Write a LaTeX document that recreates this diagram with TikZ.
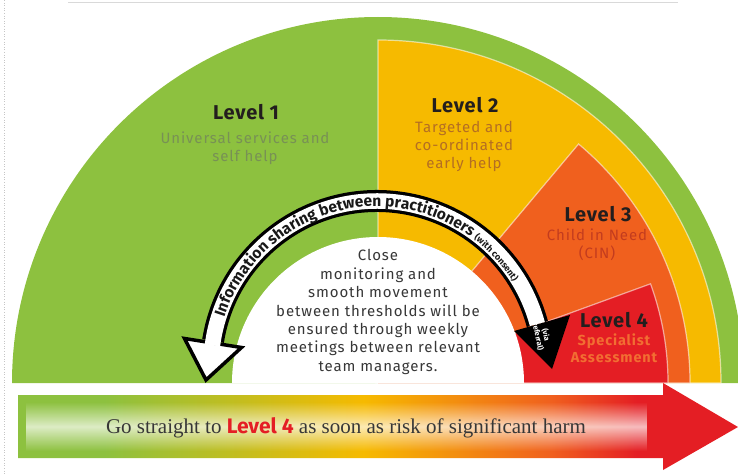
\documentclass[tikz,border=0pt]{standalone}
\usepackage{fontspec}
\setmainfont{Liberation Serif}
\newfontfamily\din{Fira Sans}
\newfontfamily\dinw{Fira Sans}[LetterSpace=6]
\newfontfamily\dint{Fira Sans}[LetterSpace=4]
\usetikzlibrary{decorations.text,fadings}
\definecolor{grn}{RGB}{141,193,63}
\definecolor{yel}{RGB}{246,186,0}
\definecolor{org}{RGB}{240,96,30}
\definecolor{rd}{RGB}{228,30,36}
\definecolor{txtgray}{RGB}{55,55,55}
\definecolor{sub1}{RGB}{120,145,85}
\definecolor{sub2}{RGB}{180,110,35}
\definecolor{sub3}{RGB}{195,60,30}
\definecolor{sub4}{RGB}{242,110,50}
\definecolor{title}{RGB}{35,30,30}
\pgfdeclarehorizontalshading{barshade}{100bp}{color(0bp)=(grn); color(25bp)=(grn); color(31bp)=(grn); color(49bp)=(yel); color(62bp)=(org); color(68bp)=(rd); color(75bp)=(rd); color(100bp)=(rd)}
\tikzfading[name=glowv, top color=transparent!100, bottom color=transparent!100, middle color=transparent!30]
\tikzset{
  sector/.style={draw=white, draw opacity=0.55, line width=1.2pt},
  lvltitle/.style={font=\dint\bfseries\fontsize{20}{20}\selectfont, text=title},
  lvlsub/.style={font=\dinw\fontsize{15}{18}\selectfont, align=center},
}
\begin{document}
\begin{tikzpicture}[x=1pt,y=1pt]
\useasboundingbox (0,0) rectangle (738,475);
% frame artefacts
\draw[gray!30, line width=0.6pt] (68,473) -- (678,473);
\draw[gray!45, dotted, line width=0.6pt] (4,475) -- (4,0);
% half disc
\coordinate (C) at (378,92);
\fill[grn] (C) ++(0:366) arc[start angle=0, end angle=180, radius=366] -- cycle;
\filldraw[yel, sector] (C) -- ++(0:343) arc[start angle=0, end angle=90, radius=343] -- cycle;
\filldraw[org, sector] (C) -- ++(0:312) arc[start angle=0, end angle=50, radius=312] -- cycle;
\filldraw[rd, sector] (C) -- ++(0:290) arc[start angle=0, end angle=20, radius=290] -- cycle;
\fill[white] (C) ++(0:146) arc[start angle=0, end angle=180, radius=146] -- cycle;
% curved two-headed band
\coordinate (A) at (377,108);
\draw[black, line width=22pt] (A) ++(171:166) arc[start angle=171, end angle=15, radius=166];
\filldraw[fill=white, draw=black, line width=3.5pt, line join=miter]
  (184.5,136.5) coordinate (lh1) -- (206,95) coordinate (ltip) -- (241.5,127.5) coordinate (lh2) -- cycle;
\fill[black] (514,144) coordinate (rh1) -- (552,106) coordinate (rtip) -- (570,160) coordinate (rh2) -- cycle;
\draw[white, line width=15.5pt] (A) ++(172.5:166) arc[start angle=172.5, end angle=15, radius=166];
\path[decorate, decoration={text along path, text align=center, text color=black!90,
  text={|\din\bfseries\fontsize{15.5}{15.5}\selectfont|Information sharing between practitioners |\din\bfseries\fontsize{9}{9}\selectfont|(with consent)}}]
  (A) ++(170:160.5) arc[start angle=170, end angle=24, radius=160.5];
\node[text=white, font=\din\bfseries\fontsize{7.5}{8}\selectfont, align=center, rotate=-78] (via) at (542,139) {(via\\referral)};
% level labels
\node[lvltitle] (l1) at (246,363) {Level 1};
\node[lvlsub, text=sub1] (s1) at (245,326.5) {Universal services and\\self help};
\node[lvltitle] (l2) at (465,370) {Level 2};
\node[lvlsub, text=sub2] (s2) at (464,329) {Targeted and\\co-ordinated\\early help};
\node[lvltitle] (l3) at (598,261) {Level 3};
\node[lvlsub, text=sub3] (s3) at (597,230) {Child in Need\\(CIN)};
\node[lvltitle] (l4) at (614,155) {Level 4};
\node[lvlsub, text=sub4, font=\dinw\bfseries\fontsize{14.5}{17}\selectfont] (s4) at (614,126.5) {Specialist\\Assessment};
% centre text
\node[align=center, text=txtgray, font=\dinw\fontsize{15}{18.4}\selectfont] (mid) at (378,163)
  {Close\\monitoring and\\smooth movement\\between thresholds will be\\ensured through weekly\\meetings between relevant\\team managers.};
% bottom arrow
\shade[shading=barshade] (18,80) -- (663,80) -- (663,92) -- (738,48) -- (663,5) -- (663,17) -- (18,17) -- cycle;
\fill[white, path fading=glowv] (26,24) rectangle (648,73);
\node[text=txtgray, font=\fontsize{21}{21}\selectfont] (go) at (346,47)
  {Go straight to {\din\bfseries\color{rd}Level 4} as soon as risk of significant harm};
\end{tikzpicture}
\end{document}
